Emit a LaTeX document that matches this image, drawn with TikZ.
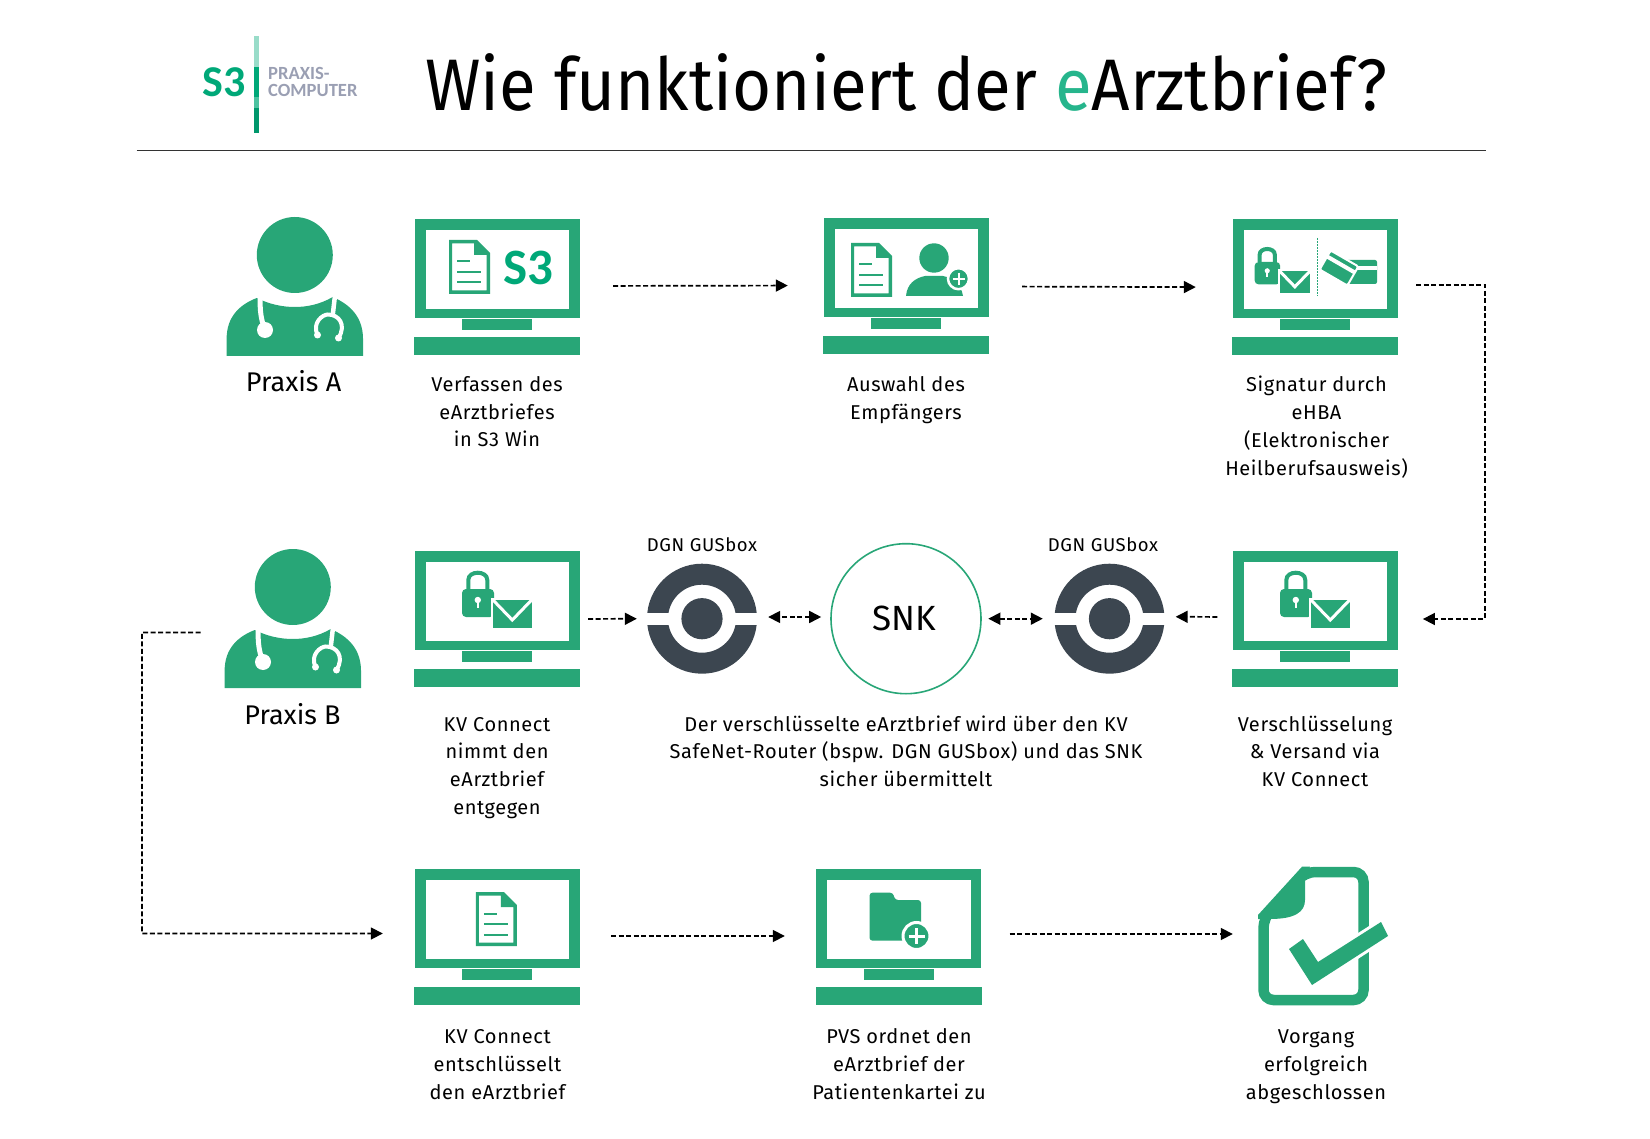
\documentclass[tikz,border=0pt]{standalone}
\usepackage{fontspec}
\setmainfont{Fira Sans}
\newfontfamily\logofont{Carlito}
\newfontfamily\titlefont{Fira Sans}[FakeStretch=0.92]
\newfontfamily\capfont{Fira Sans}[LetterSpace=3]
\usepackage{xcolor}
\usepackage{tikz}
\usetikzlibrary{arrows.meta}
\definecolor{s3green}{HTML}{28A677}
\definecolor{logogreen}{HTML}{00A878}
\definecolor{routergrey}{HTML}{3C4650}
\definecolor{logogrey}{HTML}{9A9FB3}
\begin{document}
\begin{tikzpicture}[x=1pt,y=-1pt,
    flow/.style={line width=1.7pt,dash pattern=on 5pt off 2.5pt,-{Triangle[length=12pt,width=12pt]}},
    both/.style={flow,{Triangle[length=12pt,width=12pt]}-{Triangle[length=12pt,width=12pt]}},
    caption/.style={align=center,inner sep=0pt,anchor=base,font=\capfont\fontsize{20}{27.9}\selectfont},
    holder/.style={inner sep=0pt,minimum width=166pt,minimum height=136pt},
    person/.style={inner sep=0pt,minimum width=137pt,minimum height=139pt}]
\newcommand{\Monitor}[3]{%
    \node[holder] (#1) at (#2,#3) {};
    \begin{scope}[shift={(#1.center)}]
    \fill[s3green] (-82.5,-68) rectangle (82.5,31); %frame
    \fill[white] (-71.5,-57) rectangle (72,22); %screen
    \fill[s3green] (-35,32) rectangle (35,43); %stand
    \fill[s3green] (-83,50) rectangle (83,68); %base
    \end{scope}
}
\newcommand{\Doctor}[3]{%
    \node[person] (#1) at (#2,#3) {};
    \begin{scope}[shift={(#1.center)}]
    \fill[s3green] (0,-31.5) circle (38); %head
    \fill[s3green] (-68.2,69.5) -- (-68.2,52) .. controls (-68,30) and (-55,18) .. (-38,11.5)
        .. controls (-25,18) and (-12,20.5) .. (0,20.5) .. controls (12,20.5) and (25,18) .. (38,10.5)
        .. controls (55,18) and (68,30) .. (68.2,52) -- (68.2,69.5) -- cycle; %body
    \draw[white,line width=5pt] (-34.8,9) .. controls (-34.8,25) and (-34,32) .. (-30,43); %tube
    \fill[white] (-29.8,43.5) circle (8);
    \draw[white,line width=4.5pt] (40.2,9) -- (38,28);
    \draw[white,line width=4pt] (22.7,48.5) .. controls (17,36) and (28,28) .. (33,28) .. controls (44,28) and (52,38) .. (43.7,51.5);
    \fill[white] (22.7,48.5) circle (3.5) (43.7,51.5) circle (3.5);
    \end{scope}
}
\newcommand{\DocIcon}[2]{%
    \begin{scope}[shift={(#1,#2)}]
    \fill[s3green,even odd rule] (0,0) -- (28,0) -- (41,13) -- (41,54) -- (0,54) -- cycle
        (3,3.5) -- (25,3.5) -- (25,15) -- (37.5,15) -- (37.5,50.5) -- (3,50.5) -- cycle;
    \draw[s3green,line width=2pt] (8,21.5) -- (21,21.5) (8,32) -- (32,32) (8,42.5) -- (32,42.5);
    \end{scope}
}
\newcommand{\LockMail}[3]{%
    \begin{scope}[shift={(#1,#2)},scale=#3]
    \draw[s3green,line width=4pt] (-23.7,-10) -- (-23.7,-19) .. controls (-23.7,-28.7) and (-4.7,-28.7) .. (-4.7,-19) -- (-4.7,-10); %shackle
    \fill[s3green,rounded corners=4pt] (-30,-10) rectangle (2,18); %lock
    \fill[white] (-14.2,1) circle (3.2);
    \fill[white] (-15.5,1) rectangle (-13,9);
    \fill[s3green,draw=white,line width=2pt] (0,0) rectangle (40.6,29.7); %mail
    \draw[white,line width=3pt] (1,1) -- (20.3,21) -- (39.6,1);
    \end{scope}
}
\newcommand{\Router}[3]{%
    \node[inner sep=0pt,minimum size=110pt] (#1) at (#2,#3) {};
    \fill[routergrey,even odd rule] (#1.center) circle (55) (#1.center) circle (34);
    \fill[routergrey] (#1.center) circle (20.6);
    \fill[white] ([shift={(-56pt,-6.2pt)}]#1.center) rectangle ([shift={(-21.5pt,6.2pt)}]#1.center);
    \fill[white] ([shift={(21.5pt,-6.2pt)}]#1.center) rectangle ([shift={(56pt,6.2pt)}]#1.center);
}
\useasboundingbox (0,0) rectangle (1650,1139);
% logo and title
\fill[logogreen!40!white] (254,36) rectangle (259,67);
\fill[logogreen] (254,67) rectangle (259,97);
\fill[logogreen!70!white] (254,97) rectangle (259,108);
\fill[logogreen!90!black] (254,108) rectangle (259,133);
\node[anchor=base,inner sep=0pt,font=\logofont\bfseries\fontsize{44}{44}\selectfont,text=logogreen] (logoS) at (224.5,97) {S3};
\node[anchor=base west,inner sep=0pt,align=left,font=\logofont\bfseries\fontsize{18.6}{17}\selectfont,text=logogrey] (logoA) at (268,97) {PRAXIS-\\COMPUTER};
\node[anchor=base west,inner sep=0pt,font=\titlefont\fontsize{73}{73}\selectfont] (title) at (425,110.7) {Wie funktioniert der \textcolor{logogreen!85!white}{e}Arztbrief?};
\draw[line width=1.2pt,black!80] (136.5,150.5) -- (1486,150.5);
% row one
\Doctor{docA}{294.8}{286.5}
\node[anchor=base,inner sep=0pt,font=\fontsize{27}{27}\selectfont] (docAtext) at (293.6,391.5) {Praxis A};
\Monitor{mon1}{497}{287}
\DocIcon{449}{240}
\node[anchor=base,inner sep=0pt,font=\logofont\bfseries\fontsize{51}{51}\selectfont,text=logogreen] (monS) at (528,285) {S3};
\node[caption] (cap1) at (497,447) {Verfassen des\\eArztbriefes\\in S3 Win};
\Monitor{mon2}{906}{286.5}
\DocIcon{851}{243}
\fill[s3green] (934,258) circle (14.7); %receiver
\fill[s3green] (906,296) .. controls (907,284) and (915,278) .. (925,276) -- (943,276) .. controls (953,278) and (961,284) .. (963,296) -- cycle;
\fill[s3green,draw=white,line width=2.5pt] (958.5,278.7) circle (10.5);
\draw[white,line width=2pt] (952.5,278.7) -- (964.5,278.7) (958.5,272.7) -- (958.5,284.7);
\node[caption] (cap2) at (906,419.4) {Auswahl des\\Empfängers};
\Monitor{mon3}{1315}{287.2}
\LockMail{1278.6}{270}{0.8}
\draw[s3green,line width=1pt,dash pattern=on 2pt off 1pt] (1317.4,238) -- (1317.4,295.7);
\fill[s3green,rounded corners=2pt] (1345.5,260) rectangle (1377,284); %cards
\fill[white] (1345.5,266) rectangle (1377,270);
\begin{scope}[shift={(1339,268)},rotate=-30]
\fill[s3green,draw=white,line width=2pt,rounded corners=2pt] (-16,-11) rectangle (16,11);
\fill[white] (-16,-6) rectangle (16,-2);
\end{scope}
\node[caption] (cap3) at (1316.5,475.2) {Signatur durch\\eHBA\\(Elektronischer\\Heilberufsausweis)};
% row two
\Doctor{docB}{292.8}{618.5}
\node[anchor=base,inner sep=0pt,font=\fontsize{27}{27}\selectfont] (docBtext) at (292.5,724) {Praxis B};
\Monitor{mon4}{497}{619}
\LockMail{492}{599}{1}
\node[caption] (cap4) at (497,814.7) {KV Connect\\nimmt den\\eArztbrief\\entgegen};
\Router{boxA}{702}{618.7}
\node[font=\capfont\fontsize{18.5}{18.5}\selectfont,inner sep=0pt] (boxAtext) at (702,545) {DGN GUSbox};
\node[circle,draw=s3green,line width=1.6pt,minimum size=150pt,inner sep=0pt,font=\fontsize{35}{35}\selectfont] (snk) at (906,618.7) {\hspace*{-4pt}SNK};
\Router{boxB}{1109.5}{618.7}
\node[font=\capfont\fontsize{18.5}{18.5}\selectfont,inner sep=0pt] (boxBtext) at (1103,544.7) {DGN GUSbox};
\Monitor{mon5}{1315}{619}
\LockMail{1310}{599}{1}
\node[caption] (cap5) at (1315,786.8) {Verschlüsselung\\\& Versand via\\KV Connect};
\node[caption] (cap6) at (906,786.8) {Der verschlüsselte eArztbrief wird über den KV\\SafeNet-Router (bspw. DGN GUSbox) und das SNK\\sicher übermittelt};
% row three
\Monitor{mon6}{497}{937}
\DocIcon{475.8}{892}
\node[caption] (cap7) at (497.5,1099) {KV Connect\\entschlüsselt\\den eArztbrief};
\Monitor{mon7}{898.5}{937}
\fill[s3green,rounded corners=3pt] (869.5,892.7) -- (893,892.7) -- (895,900) -- (921,900) -- (921,940.7) -- (869.5,940.7) -- cycle; %folder
\fill[s3green,draw=white,line width=3pt] (916.5,936) circle (13.5);
\draw[white,line width=3pt] (908.5,936) -- (924.5,936) (916.5,928) -- (916.5,944);
\node[caption] (cap8) at (899,1099) {PVS ordnet den\\eArztbrief der\\Patientenkartei zu};
\node[inner sep=0pt,minimum width=128pt,minimum height=138pt] (done) at (1322,936) {};
\draw[s3green,line width=10.5pt,rounded corners=10pt] (1305,872) -- (1363.5,872) -- (1363.5,1000) -- (1263.5,1000) -- (1263.5,918) -- cycle; %sheet
\fill[s3green] (1258,915) -- (1302,866.7) -- (1310,866.7) -- (1305,880) -- (1305,900) .. controls (1305,912) and (1295,919) .. (1270,919) -- (1258,919) -- cycle;
\draw[white,line width=6pt,line join=miter] (1289,949) -- (1303,939) -- (1318,962) -- (1381,922) -- (1388,936) -- (1312,985) -- cycle; %check
\fill[s3green] (1289,949) -- (1303,939) -- (1318,962) -- (1381,922) -- (1388,936) -- (1312,985) -- cycle;
\node[caption] (cap9) at (1316,1099) {Vorgang\\erfolgreich\\abgeschlossen};
% connectors
\coordinate (elbowR) at (1485,619);
\coordinate (elbowL) at (142,632.4);
\draw[flow,shorten <=33pt,shorten >=35pt] ([yshift=1pt]mon1.east) -- ([yshift=1pt]mon2.west);
\draw[flow,shorten <=33pt,shorten >=36pt] (mon2.east) -- ([yshift=0pt]mon3.west);
\draw[flow,shorten <=18pt,shorten >=24.7pt] ([yshift=2.5pt]mon3.east) -| (elbowR) -- (mon5.east);
\draw[flow,shorten <=14.5pt,shorten >=11pt] ([yshift=2pt]mon5.west) -- ([yshift=2pt]boxB.east);
\draw[both,shorten <=6.5pt,shorten >=11.5pt] (snk.east) -- (boxB.west);
\draw[both,shorten <=9pt,shorten >=11pt] ([yshift=1.7pt]snk.west) -- ([yshift=1.7pt]boxA.east);
\draw[flow,shorten <=7.8pt,shorten >=10pt] (mon4.east) -- (boxA.west);
\draw[flow,shorten <=23.6pt,shorten >=31pt] ([yshift=-14pt]docB.west) -- (elbowL) |- ([yshift=3.5pt]mon6.west);
\draw[flow,shorten <=31pt,shorten >=30.5pt] ([yshift=1pt]mon6.east) -- ([yshift=1pt]mon7.west);
\draw[flow,shorten <=28pt,shorten >=25pt] ([yshift=3pt]mon7.east) -- ([yshift=2pt]done.west);
\end{tikzpicture}
\end{document}
